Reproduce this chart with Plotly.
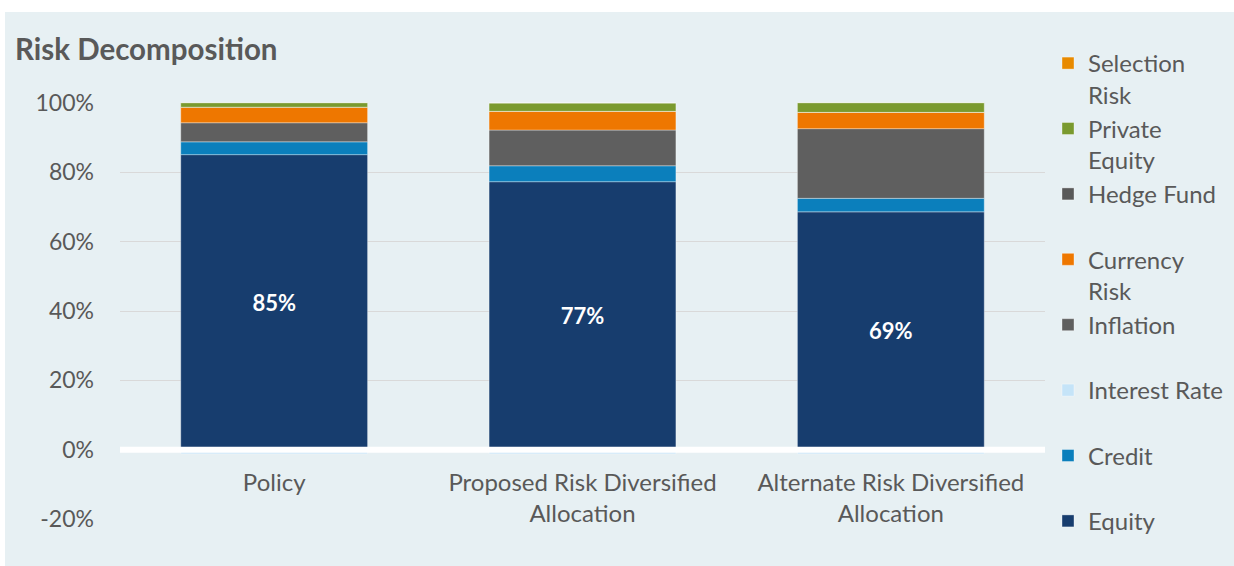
import plotly.graph_objects as go

categories = ["Policy", "Proposed Risk Diversified<br>Allocation", "Alternate Risk Diversified<br>Allocation"]
equity = [85.1, 77.3, 68.6]
credit = [3.7, 4.6, 3.9]
interest_rate = [-1.2, -1.2, -1.2]
inflation = [5.5, 10.3, 20.1]
currency_risk = [4.5, 5.4, 4.7]
hedge_fund = [0.0, 0.0, 0.0]
private_equity = [1.3, 2.4, 2.8]
selection_risk = [0.0, 0.0, 0.0]
y_ticks = [-20, 0, 20, 40, 60, 80, 100]
y_tick_labels = ["-20%", "0%", "20%", "40%", "60%", "80%", "100%"]

series = [
    ("Equity", equity, "#173D6E"),
    ("Credit", credit, "#0B7FBC"),
    ("Interest Rate", interest_rate, "#C5E4F8"),
    ("Inflation", inflation, "#5F5F5F"),
    ("Currency<br>Risk", currency_risk, "#EE7700"),
    ("Hedge Fund", hedge_fund, "#595959"),
    ("Private<br>Equity", private_equity, "#7A9A2E"),
    ("Selection<br>Risk", selection_risk, "#E88A00"),
]

FONT = "Lato"
GREY = "#595959"
BG = "#E7F0F3"

fig = go.Figure()
for name, vals, color in series:
    is_eq = name == "Equity"
    fig.add_trace(go.Bar(
        x=categories, y=vals, name=name if "<br>" in name else name + "<br>\u00a0",
        marker=dict(color=color, line=dict(color="rgba(255,255,255,0.35)", width=1)),
        texttemplate="%{y:.0f}%" if is_eq else None,
        textposition="inside" if is_eq else "none",
        insidetextanchor="middle",
        textangle=0,
        constraintext="none",
        textfont=dict(family=FONT, size=22, color="white", weight="bold"),
    ))

W, H = 1234, 566
L, R, T, B = 120, 189, 102, 46
pw, ph = W - L - R, H - T - B
pad = 120 / 416  # one pixel in data units

fig.update_layout(
    width=W, height=H,
    margin=dict(l=L, r=R, t=T, b=B, autoexpand=False),
    barmode="relative",
    bargap=0.394,
    paper_bgcolor=BG,
    plot_bgcolor="rgba(0,0,0,0)",
    font=dict(family=FONT, size=23, color=GREY),
    title=dict(text="<b>Risk Decomposition</b>", font=dict(family=FONT, size=29.5, color=GREY),
               x=15 / W, xref="container", xanchor="left",
               y=1 - 50 / H, yref="container", yanchor="middle"),
    yaxis=dict(range=[-20 - pad, 100 + pad], tickvals=y_ticks, ticktext=y_tick_labels,
               showgrid=True, gridcolor="#D9D9D9", gridwidth=1,
               zeroline=False, showline=False, ticks="",
               tickfont=dict(family=FONT, size=23, color=GREY),
               ticklabelstandoff=25),
    xaxis=dict(anchor="free", position=(H - B - 449.5) / ph, showline=False, ticks="",
               showgrid=False, zeroline=False,
               tickfont=dict(family=FONT, size=24, color=GREY),
               ticklabelstandoff=16),
    legend=dict(x=(1048 - L) / pw, xanchor="left", y=(H - B - 41) / ph, yanchor="top",
                traceorder="reversed", valign="top", bgcolor="rgba(0,0,0,0)",
                maxheight=560,
                font=dict(family=FONT, size=24, color=GREY)),
    showlegend=True,
    shapes=[
        dict(type="rect", xref="paper", yref="paper",
             x0=(-10 - L) / pw, x1=(W + 10 - L) / pw, y0=(H - B - 12) / ph, y1=(H - B + 10) / ph,
             fillcolor="white", line=dict(width=0), layer="below"),
        dict(type="rect", xref="paper", yref="paper",
             x0=(-10 - L) / pw, x1=(5 - L) / pw, y0=(H - B - H - 10) / ph, y1=(H - B + 10) / ph,
             fillcolor="white", line=dict(width=0), layer="below"),
        dict(type="line", xref="paper", yref="y", x0=0, x1=1, y0=0, y1=0,
             line=dict(color="white", width=6), layer="above"),
    ],
)

fig.write_html("out.html")
